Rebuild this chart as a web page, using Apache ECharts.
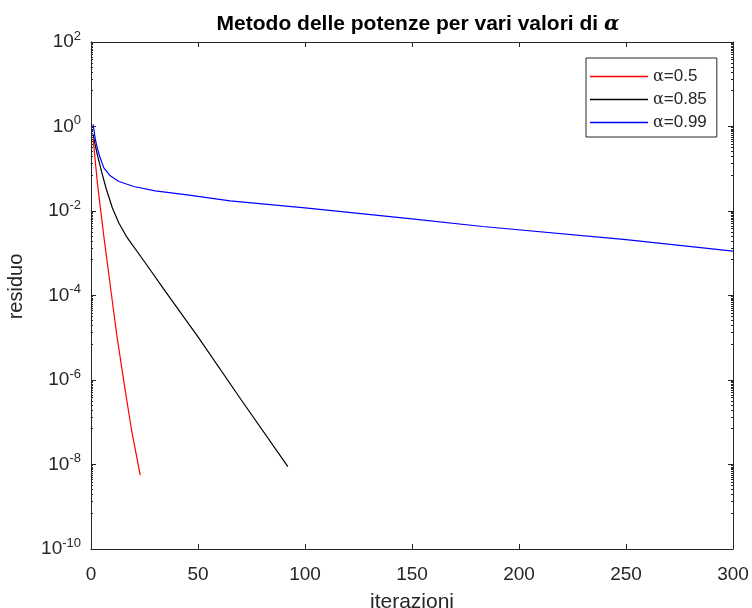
<!DOCTYPE html>
<html>
<head>
<meta charset="utf-8">
<script src="https://cdn.jsdelivr.net/npm/echarts@6/dist/echarts.min.js"></script>
<style>html,body{margin:0;padding:0;background:#fff;}#c{width:752px;height:608px;}</style>
</head>
<body>
<div id="c"></div>
<script>
// ---- data ----
const seriesNames = ['α=0.5', 'α=0.85', 'α=0.99'];
const iterRed   = [1, 3, 6, 10, 12, 16, 19, 23];
const residRed  = [0.5, 0.045, 0.0025, 7.1e-5, 1.2e-5, 5.6e-7, 6.3e-8, 5.6e-9];
const iterBlack  = [1, 2, 3, 5, 7, 10, 13, 17, 25, 35, 50, 70, 92];
const residBlack = [0.65, 0.355, 0.21, 0.083, 0.035, 0.0118, 0.0052, 0.0023, 6.3e-4, 1.2e-4, 1.05e-5, 3.5e-7, 8.9e-9];
const iterBlue  = [1, 2, 3, 4, 6, 9, 13, 20, 30, 45, 65, 100, 150, 183, 250, 300];
const residBlue = [1.12, 0.5, 0.30, 0.2, 0.105, 0.068, 0.05, 0.038, 0.03, 0.024, 0.0174, 0.0118, 0.0065, 0.0043, 0.0021, 0.00112];
const xTicks = [0, 50, 100, 150, 200, 250, 300];
const yTickExponents = [-10, -8, -6, -4, -2, 0, 2];

const zip = (xs, ys) => xs.map((x, i) => [x, ys[i]]);
const AX = '#262626';
const FONT = 'Liberation Sans, Arial, sans-serif';
const SERIF = 'DejaVu Serif, serif';

const chart = echarts.init(document.getElementById('c'), null, {renderer: 'canvas'});

const yLabelFmt = v => {
  const e = Math.round(Math.log10(v));
  return yTickExponents.indexOf(e) >= 0 ? '{b|10}{s|' + e + '}' : '';
};

const axisCommon = {
  axisLine: {show: true, onZero: false, lineStyle: {color: AX, width: 1}},
  axisTick: {show: true, inside: true, length: 5, lineStyle: {color: AX, width: 1}},
  splitLine: {show: false}
};

chart.setOption({
  backgroundColor: '#ffffff',
  animation: false,
  title: {
    text: '{a|Metodo delle potenze per vari valori di }{g|α}',
    left: 413, top: 9, textAlign: 'center',
    textStyle: {
      rich: {
        a: {fontFamily: FONT, fontWeight: 'bold', fontSize: 21, color: '#000'},
        g: {fontFamily: SERIF, fontStyle: 'italic', fontSize: 20, color: '#000'}
      }
    }
  },
  grid: {left: 91, top: 42, right: 19, bottom: 59, containLabel: false, outerBoundsMode: 'none'},
  legend: {
    orient: 'vertical',
    left: 586, top: 58,
    padding: [10, 10, 6, 4],
    itemGap: 6,
    itemWidth: 58, itemHeight: 1.5,
    icon: 'rect',
    backgroundColor: '#fff',
    borderColor: AX, borderWidth: 1, borderRadius: 0,
    data: seriesNames,
    formatter: n => '{g|α}{t|' + n.slice(1) + '}',
    textStyle: {
      rich: {
        g: {fontFamily: SERIF, fontSize: 16, color: '#262626', lineHeight: 17},
        t: {fontFamily: FONT, fontSize: 17, color: '#262626', lineHeight: 17}
      }
    }
  },
  xAxis: [
    Object.assign({}, axisCommon, {
      type: 'value', position: 'bottom',
      min: xTicks[0], max: xTicks[xTicks.length - 1], interval: xTicks[1] - xTicks[0],
      name: 'iterazioni', nameLocation: 'middle', nameGap: 43,
      nameTextStyle: {fontFamily: FONT, fontSize: 21, color: AX},
      axisLabel: {margin: 16, fontFamily: FONT, fontSize: 19, color: AX}
    }),
    Object.assign({}, axisCommon, {
      type: 'value', position: 'top',
      min: xTicks[0], max: xTicks[xTicks.length - 1], interval: xTicks[1] - xTicks[0],
      axisLabel: {show: false}
    })
  ],
  yAxis: [
    Object.assign({}, axisCommon, {
      type: 'log', logBase: 10, position: 'left',
      min: Math.pow(10, yTickExponents[0]), max: Math.pow(10, yTickExponents[yTickExponents.length - 1]),
      interval: yTickExponents[1] - yTickExponents[0],
      name: 'residuo', nameLocation: 'middle', nameGap: 65, nameRotate: 90,
      nameTextStyle: {fontFamily: FONT, fontSize: 20, color: AX, padding: [0, 0, 0, 18]},
      minorTick: {show: true, splitNumber: 16, length: 2, lineStyle: {color: AX}},
      axisLabel: {
        margin: 10, formatter: yLabelFmt,
        rich: {
          b: {fontFamily: FONT, fontSize: 19, color: AX},
          s: {fontFamily: FONT, fontSize: 13, color: AX, padding: [0, 0, 12, 0]}
        }
      }
    }),
    Object.assign({}, axisCommon, {
      type: 'log', logBase: 10, position: 'right',
      min: Math.pow(10, yTickExponents[0]), max: Math.pow(10, yTickExponents[yTickExponents.length - 1]),
      interval: yTickExponents[1] - yTickExponents[0],
      minorTick: {show: true, splitNumber: 16, length: 2, lineStyle: {color: AX}},
      axisLabel: {show: false}
    })
  ],
  series: [
    {name: seriesNames[0], type: 'line', data: zip(iterRed, residRed), symbol: 'none',
     lineStyle: {color: '#ff0000', width: 1.2}, itemStyle: {color: '#ff0000'}},
    {name: seriesNames[1], type: 'line', data: zip(iterBlack, residBlack), symbol: 'none',
     lineStyle: {color: '#000000', width: 1.2}, itemStyle: {color: '#000000'}},
    {name: seriesNames[2], type: 'line', data: zip(iterBlue, residBlue), symbol: 'none',
     lineStyle: {color: '#0000ff', width: 1.2}, itemStyle: {color: '#0000ff'}}
  ]
});
</script>
</body>
</html>
